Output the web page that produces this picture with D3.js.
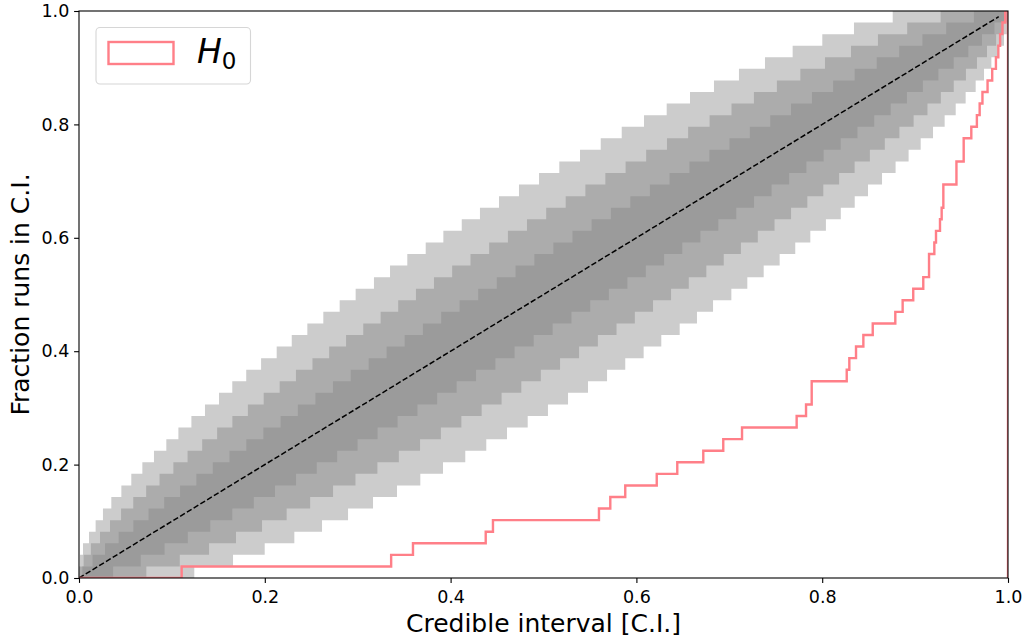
<!DOCTYPE html>
<html>
<head>
<meta charset="utf-8">
<script src="https://cdn.jsdelivr.net/npm/d3@7/dist/d3.min.js"></script>
<style>
  body { margin: 0; background: #fff; }
  svg { font-family: "DejaVu Sans", sans-serif; }
</style>
</head>
<body>
<svg width="1026" height="640"></svg>
<script>
// C.I. value at which each band edge climbs by one run (1/49 of the runs)
var outerUpper = [0.0005, 0.0011, 0.0043, 0.0108, 0.0179, 0.0258, 0.0348, 0.0456, 0.0563, 0.0682,
  0.0807, 0.0940, 0.1070, 0.1210, 0.1356, 0.1507, 0.1650, 0.1800, 0.1960, 0.2128,
  0.2290, 0.2458, 0.2630, 0.2806, 0.2978, 0.3175, 0.3348, 0.3534, 0.3732, 0.3922,
  0.4120, 0.4316, 0.4521, 0.4736, 0.4952, 0.5170, 0.5393, 0.5616, 0.5842, 0.6082,
  0.6326, 0.6577, 0.6835, 0.7104, 0.7384, 0.7682, 0.8001, 0.8342, 0.8759];
var outerLower = [0.1241, 0.1658, 0.1999, 0.2318, 0.2616, 0.2896, 0.3165, 0.3423, 0.3674, 0.3918,
  0.4158, 0.4384, 0.4607, 0.4830, 0.5048, 0.5264, 0.5479, 0.5684, 0.5880, 0.6078,
  0.6268, 0.6466, 0.6652, 0.6825, 0.7022, 0.7194, 0.7370, 0.7542, 0.7710, 0.7872,
  0.8040, 0.8200, 0.8350, 0.8493, 0.8644, 0.8790, 0.8930, 0.9060, 0.9193, 0.9318,
  0.9437, 0.9544, 0.9652, 0.9742, 0.9821, 0.9892, 0.9957, 0.9989, 0.9995];
var midUpper = [0.0005, 0.0050, 0.0128, 0.0226, 0.0334, 0.0453, 0.0584, 0.0723, 0.0867, 0.1016,
  0.1169, 0.1326, 0.1487, 0.1651, 0.1818, 0.1988, 0.2160, 0.2335, 0.2513, 0.2693,
  0.2875, 0.3060, 0.3247, 0.3436, 0.3627, 0.3821, 0.4017, 0.4214, 0.4415, 0.4617,
  0.4822, 0.5029, 0.5239, 0.5451, 0.5666, 0.5884, 0.6105, 0.6329, 0.6557, 0.6788,
  0.7024, 0.7265, 0.7512, 0.7765, 0.8030, 0.8310, 0.8600, 0.8915, 0.9275];
var midLower = [0.0725, 0.1085, 0.1400, 0.1690, 0.1970, 0.2235, 0.2488, 0.2735, 0.2976, 0.3212,
  0.3443, 0.3671, 0.3895, 0.4116, 0.4334, 0.4549, 0.4761, 0.4971, 0.5178, 0.5383,
  0.5585, 0.5786, 0.5983, 0.6179, 0.6373, 0.6564, 0.6753, 0.6940, 0.7125, 0.7307,
  0.7487, 0.7665, 0.7840, 0.8012, 0.8182, 0.8349, 0.8513, 0.8674, 0.8831, 0.8984,
  0.9133, 0.9277, 0.9416, 0.9547, 0.9666, 0.9774, 0.9872, 0.9950, 0.9995];
var innerUpper = [0.0036, 0.0146, 0.0280, 0.0427, 0.0585, 0.0749, 0.0917, 0.1088, 0.1263, 0.1440,
  0.1620, 0.1801, 0.1985, 0.2170, 0.2356, 0.2545, 0.2734, 0.2925, 0.3118, 0.3311,
  0.3506, 0.3702, 0.3899, 0.4097, 0.4297, 0.4497, 0.4699, 0.4902, 0.5106, 0.5312,
  0.5518, 0.5726, 0.5935, 0.6145, 0.6357, 0.6571, 0.6786, 0.7002, 0.7221, 0.7441,
  0.7664, 0.7890, 0.8118, 0.8350, 0.8587, 0.8829, 0.9079, 0.9335, 0.9633];
var innerLower = [0.0367, 0.0665, 0.0921, 0.1171, 0.1413, 0.1650, 0.1882, 0.2110, 0.2336, 0.2559,
  0.2779, 0.2998, 0.3214, 0.3429, 0.3643, 0.3855, 0.4065, 0.4274, 0.4482, 0.4688,
  0.4894, 0.5098, 0.5301, 0.5503, 0.5703, 0.5903, 0.6101, 0.6298, 0.6494, 0.6689,
  0.6882, 0.7075, 0.7266, 0.7455, 0.7644, 0.7830, 0.8015, 0.8199, 0.8380, 0.8560,
  0.8737, 0.8912, 0.9083, 0.9251, 0.9415, 0.9573, 0.9720, 0.9854, 0.9964];

// sorted C.I. values of the 49 H0 runs
var h0Values = [0.1105, 0.3360, 0.3595, 0.4378, 0.4456, 0.5597, 0.5719, 0.5880, 0.6219, 0.6440,
  0.6720, 0.6935, 0.7137, 0.7725, 0.7826, 0.7887, 0.7887, 0.8264, 0.8292, 0.8364,
  0.8443, 0.8544, 0.8787, 0.8866, 0.8980, 0.9088, 0.9150, 0.9150, 0.9207, 0.9225,
  0.9268, 0.9286, 0.9304, 0.9304, 0.9445, 0.9445, 0.9523, 0.9523, 0.9605, 0.9665,
  0.9695, 0.9725, 0.9780, 0.9830, 0.9870, 0.9896, 0.9915, 0.9940, 0.9970];

var diagonal = [0, 0.99];
var xTicks = [0, 0.2, 0.4, 0.6, 0.8, 1.0];
var yTicks = [0, 0.2, 0.4, 0.6, 0.8, 1.0];

var bands = [
  { upper: outerUpper, lower: outerLower, fill: "#cccccc" },
  { upper: midUpper, lower: midLower, fill: "#acacac" },
  { upper: innerUpper, lower: innerLower, fill: "#9b9b9b" }
];

var svg = d3.select("svg");

var x = d3.scaleLinear().domain([0, 1]).range([79, 1008]);
var y = d3.scaleLinear().domain([0, 1]).range([578, 11]);

var line = d3.line()
  .x(function (d) { return x(d[0]); })
  .y(function (d) { return y(d[1]); });

// staircase vertices: climbs 1/n at every break
function stairs(breaks) {
  var n = breaks.length;
  var pts = [[0, 0]];
  breaks.forEach(function (b, i) {
    pts.push([b, i / n]);
    pts.push([b, (i + 1) / n]);
  });
  pts.push([1, 1]);
  return pts;
}

svg.append("clipPath").attr("id", "plot-clip")
  .append("rect")
  .attr("x", x(0)).attr("y", y(1))
  .attr("width", x(1) - x(0)).attr("height", y(0) - y(1));

var g = svg.append("g").attr("clip-path", "url(#plot-clip)");

// credible bands, widest first
g.selectAll("path.band")
  .data(bands)
  .enter()
  .append("path")
  .attr("class", "band")
  .attr("d", function (d) {
    return line(stairs(d.upper).concat(stairs(d.lower).reverse())) + "Z";
  })
  .attr("fill", function (d) { return d.fill; })
  .attr("stroke", "none");

// expected diagonal
g.append("path")
  .attr("d", line(diagonal.map(function (v) { return [v, v]; })))
  .attr("fill", "none")
  .attr("stroke", "#000")
  .attr("stroke-width", 1.5)
  .attr("stroke-dasharray", "5.5,2.4");

// cumulative histogram of the H0 runs
var h0Pts = stairs(h0Values);
h0Pts.push([1, 0]);
g.append("path")
  .attr("d", line(h0Pts))
  .attr("fill", "none")
  .attr("stroke", "#ff7f88")
  .attr("stroke-width", 2.4)
  .attr("stroke-linejoin", "miter");

// axes
var xAxis = svg.append("g")
  .attr("transform", "translate(0," + y(0) + ")")
  .call(d3.axisBottom(x).tickValues(xTicks).tickFormat(d3.format(".1f"))
    .tickSize(4.9).tickPadding(7.6));
var yAxis = svg.append("g")
  .attr("transform", "translate(" + x(0) + ",0)")
  .call(d3.axisLeft(y).tickValues(yTicks).tickFormat(d3.format(".1f"))
    .tickSize(4.9).tickPadding(4.8));

[xAxis, yAxis].forEach(function (a) {
  a.select(".domain").remove();
  a.selectAll(".tick line").attr("stroke", "#000").attr("stroke-width", 1.1);
  a.selectAll(".tick text")
    .attr("fill", "#000")
    .style("font-family", "'DejaVu Sans', sans-serif")
    .style("font-size", "17.5px");
});

// frame
svg.append("rect")
  .attr("x", x(0)).attr("y", y(1))
  .attr("width", x(1) - x(0)).attr("height", y(0) - y(1))
  .attr("fill", "none")
  .attr("stroke", "#000")
  .attr("stroke-width", 1.1);

// axis labels
svg.append("text")
  .attr("x", (x(0) + x(1)) / 2)
  .attr("y", 632)
  .attr("text-anchor", "middle")
  .style("font-size", "25px")
  .text("Credible interval [C.I.]");

svg.append("text")
  .attr("transform", "translate(28.5," + (y(0) + y(1)) / 2 + ") rotate(-90)")
  .attr("text-anchor", "middle")
  .style("font-size", "25px")
  .text("Fraction runs in C.I.");

// legend
var legend = svg.append("g");
legend.append("rect")
  .attr("x", 96).attr("y", 27.5)
  .attr("width", 154.5).attr("height", 56.5)
  .attr("rx", 4).attr("ry", 4)
  .attr("fill", "#fff").attr("fill-opacity", 0.8)
  .attr("stroke", "#d6d6d6").attr("stroke-width", 1.1);
legend.append("rect")
  .attr("x", 108.5).attr("y", 42)
  .attr("width", 65).attr("height", 22)
  .attr("fill", "none")
  .attr("stroke", "#ff7f88")
  .attr("stroke-width", 2.4);
var lt = legend.append("text")
  .attr("x", 197).attr("y", 63)
  .style("font-size", "33px");
lt.append("tspan").style("font-style", "italic").text("H");
lt.append("tspan").attr("dy", 6).style("font-size", "23px").text("0");
</script>
</body>
</html>
